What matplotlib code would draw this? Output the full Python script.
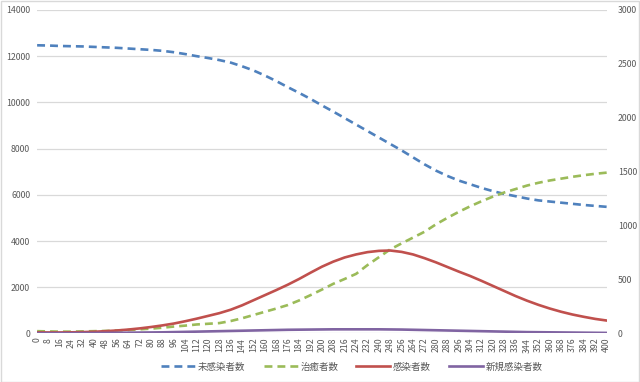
#!/usr/bin/env python3
"""SIR-style curve chart (Excel look), two y axes."""

import matplotlib
matplotlib.use('Agg')
import matplotlib.pyplot as plt
from matplotlib.patches import Rectangle

plt.rcParams['font.family'] = ['Noto Sans CJK JP', 'DejaVu Sans']

# day index, labels every 8 days
days = list(range(0, 401, 8))

susceptible = [12470, 12460, 12440, 12430, 12420, 12400, 12380, 12360, 12330, 12300,
               12270, 12230, 12170, 12090, 12000, 11920, 11830, 11720, 11560, 11380,
               11160, 10920, 10660, 10410, 10150, 9870, 9600, 9320, 9040, 8760,
               8480, 8200, 7920, 7620, 7320, 7050, 6820, 6620, 6460, 6300,
               6160, 6040, 5940, 5840, 5760, 5710, 5660, 5610, 5560, 5520, 5480]

recovered = [100, 90, 80, 80, 90, 100, 110, 130, 150, 180,
             210, 250, 300, 340, 390, 420, 450, 540, 660, 800,
             940, 1080, 1230, 1430, 1660, 1900, 2150, 2360, 2580, 2960,
             3300, 3640, 3900, 4150, 4400, 4720, 5000, 5260, 5500, 5720,
             5920, 6100, 6250, 6400, 6520, 6620, 6700, 6780, 6850, 6910, 6960]

infected = [50, 45, 45, 50, 60, 75, 100, 130, 170, 220,
            280, 350, 430, 530, 640, 760, 880, 1030, 1220, 1440,
            1660, 1880, 2110, 2360, 2630, 2890, 3110, 3290, 3420, 3520,
            3575, 3590, 3530, 3420, 3260, 3080, 2880, 2680, 2490, 2280,
            2060, 1840, 1620, 1420, 1240, 1080, 940, 820, 720, 630, 560]

new_cases = [15, 15, 15, 15, 20, 20, 25, 30, 35, 40,
             45, 50, 60, 70, 80, 90, 100, 110, 120, 130,
             140, 150, 160, 165, 170, 175, 180, 180, 180, 180,
             180, 175, 170, 160, 150, 140, 130, 120, 110, 100,
             90, 80, 70, 60, 55, 50, 45, 40, 35, 30, 25]

labels = ['未感染者数', '治癒者数', '感染者数', '新規感染者数']
colors = ['#4F81BD', '#9BBB59', '#C0504D', '#8064A2']

fig = plt.figure(figsize=(6.4, 3.82), dpi=100)
ax = fig.add_axes([0.058, 0.127, 0.89, 0.847])
ax2 = ax.twinx()

lw = 1.9
dash = (0, (3.0, 1.9))
ax.plot(days, susceptible, color=colors[0], lw=lw, linestyle=dash, label=labels[0])
ax.plot(days, recovered, color=colors[1], lw=lw, linestyle=dash, label=labels[1])
ax.plot(days, infected, color=colors[2], lw=lw, label=labels[2])
ax.plot(days, new_cases, color=colors[3], lw=lw, label=labels[3])

ax.set_xlim(0, 400)
ax.set_ylim(0, 14000)
ax.set_yticks(range(0, 14001, 2000))
ax2.set_ylim(0, 3000)
ax2.set_yticks(range(0, 3001, 500))

ax.set_xticks(days)
ax.set_xticklabels([str(d) for d in days], rotation=90)

ax.grid(axis='y', color='#D9D9D9', lw=0.9)
ax.set_axisbelow(True)
for a in (ax, ax2):
    for s in a.spines.values():
        s.set_visible(False)
    a.tick_params(length=0, labelsize=6.3, colors='#595959')
ax.tick_params(axis='x', pad=3)
ax.tick_params(axis='y', pad=5)
ax2.tick_params(axis='y', pad=8)

leg = ax.legend(loc='center', bbox_to_anchor=(0.553, -0.104), ncol=4,
                frameon=False, fontsize=6.8, handlelength=3.6, columnspacing=1.9,
                handletextpad=0.3)
for t in leg.get_texts():
    t.set_color('#595959')

fig.patches.append(Rectangle((0.001, 0.001), 0.997, 0.997, transform=fig.transFigure,
                             fill=False, edgecolor='#D9D9D9', lw=1))

fig.savefig('out.png', dpi=100)
